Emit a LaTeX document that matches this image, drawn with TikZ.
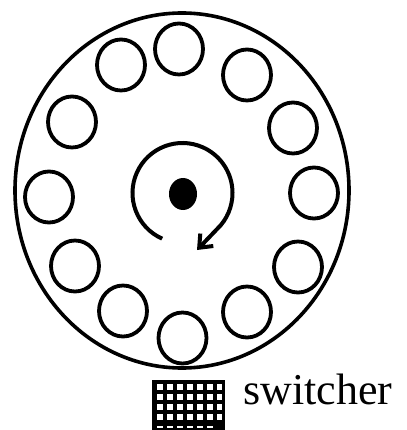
\documentclass[tikz,border=0pt]{standalone}
\usepackage{fontspec}
\setmainfont{Liberation Serif}
\usetikzlibrary{shapes.geometric,arrows.meta}
\tikzset{
  wheel/.style={draw,line width=3.6pt,ellipse,inner sep=0pt,minimum width=334pt,minimum height=355pt},
  cup/.style={draw,line width=3.8pt,ellipse,inner sep=0pt,minimum width=48pt,minimum height=51pt},
  hub/.style={fill=black,ellipse,inner sep=0pt,minimum width=28pt,minimum height=32pt},
  rot/.style={line width=4pt,-{Straight Barb[length=11pt,width=18pt,line width=4pt]}},
  gridbox/.style={fill=black},
  label/.style={font=\fontsize{44}{52}\selectfont,anchor=base west,inner sep=0pt}
}
\begin{document}
\begin{tikzpicture}[x=1pt,y=-1pt]
\useasboundingbox (0,0) rectangle (406,430);
\node[wheel] (wheel) at (182,190.5) {};
\node[cup] (c1) at (179,49) {};
\node[cup] (c2) at (247,75) {};
\node[cup] (c3) at (293,128) {};
\node[cup] (c4) at (314,193) {};
\node[cup] (c5) at (298,267) {};
\node[cup] (c6) at (247,312) {};
\node[cup] (c7) at (182.5,338) {};
\node[cup] (c8) at (123,311) {};
\node[cup] (c9) at (75,266) {};
\node[cup] (c10) at (49,197) {};
\node[cup] (c11) at (72,122) {};
\node[cup] (c12) at (121,65) {};
\node[hub] (hub) at (183,194) {};
\coordinate (rc) at (182.5,193);
\coordinate (tip) at (197,250);
\draw[rot] ([shift={(114:50)}]rc) arc[start angle=114,end angle=400,radius=50] -- (tip);
% switcher grid
\fill[gridbox] (152,380) rectangle (225,430);
\foreach \r in {383.5,393.5,403.5,413.5} {
  \foreach \c in {156.5,166.5,176.5,186.5,196.5,206.5} {
    \fill[white] (\c,\r) rectangle ++(6.5,6.5);
  }
  \fill[white] (216.5,\r) rectangle ++(5,6.5);
}
\foreach \c in {156.5,166.5,176.5,186.5,196.5,206.5} {
  \fill[white] (\c,425.5) rectangle ++(6.5,2.5);
}
\node[label] (sw) at (243,404) {switcher};
\end{tikzpicture}
\end{document}
